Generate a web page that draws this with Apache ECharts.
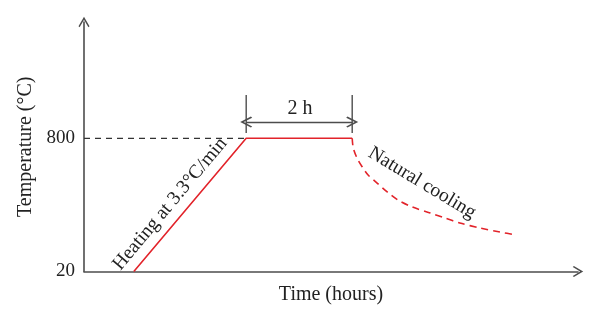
<!DOCTYPE html>
<html>
<head>
<meta charset="utf-8">
<script src="https://cdn.jsdelivr.net/npm/echarts@6/dist/echarts.min.js"></script>
<style>html,body{margin:0;padding:0;background:#fff}#c{width:600px;height:323px}</style>
</head>
<body>
<div id="c"></div>
<script>
// Data (time in hours from an arbitrary origin, temperature in °C)
var yTicks = [20, 800];
var heatTime = [0.94, 3.06, 5.06];
var heatTemp = [20, 800, 800];
var coolTime = [5.06, 5.08, 5.15, 5.25, 5.36, 5.53, 5.72, 5.92, 6.19, 6.53, 6.81, 7.09, 7.47, 7.85, 8.15];
var coolTemp = [800, 743, 685, 632, 585, 538, 486, 439, 398, 363, 333, 304, 275, 251, 234];
var refTime = [0, 3.06];
var refTemp = [800, 800];
var holdStart = 3.06, holdEnd = 5.06;
var dimLow = 831, dimHigh = 1054, dimMid = 895;

var FONT = '"Liberation Serif", "DejaVu Serif", serif';
var AX = '#4d4d4d';
var RED = '#e2232a';
var chevron = 'path://M5,0 L10,8.5 L9,9.5 L5,2.8 L1,9.5 L0,8.5 Z';

function zip(a, b) { return a.map(function (v, i) { return [v, b[i]]; }); }

var chart = echarts.init(document.getElementById('c'));
chart.setOption({
  animation: false,
  grid: { left: 84, right: 22, top: 22, bottom: 51.5, containLabel: false },
  xAxis: {
    type: 'value', min: 0, max: 9.32,
    name: 'Time (hours)', nameLocation: 'middle', nameGap: 13,
    nameTextStyle: { fontFamily: FONT, fontSize: 20, color: '#222' },
    axisLine: { show: true, lineStyle: { color: AX, width: 1.6 }, symbol: ['none', chevron], symbolSize: [11, 12] },
    axisTick: { show: false }, axisLabel: { show: false }, splitLine: { show: false }
  },
  yAxis: {
    type: 'value', min: 20, max: 1481,
    name: 'Temperature (°C)', nameLocation: 'middle', nameGap: 40, nameRotate: 90,
    nameTextStyle: { fontFamily: FONT, fontSize: 20, color: '#222' },
    axisLine: { show: true, lineStyle: { color: AX, width: 1.6 }, symbol: ['none', chevron], symbolSize: [11, 12] },
    axisTick: { show: false }, splitLine: { show: false },
    axisLabel: { show: true, customValues: yTicks, margin: 9, fontFamily: FONT, fontSize: 19, color: '#222' }
  },
  series: [
    { type: 'line', data: zip(refTime, refTemp), symbol: 'none', silent: true,
      lineStyle: { color: '#333', width: 1.2, type: [6, 5] } },
    { type: 'line', data: zip(heatTime, heatTemp), symbol: 'none', silent: true,
      lineStyle: { color: RED, width: 1.6 } },
    { type: 'line', data: zip(coolTime, coolTemp), symbol: 'none', smooth: 0.3, silent: true,
      lineStyle: { color: RED, width: 1.6, type: [7, 5] } },
    { type: 'line', data: [[holdStart, dimLow], [holdStart, dimHigh]], symbol: 'none', silent: true,
      lineStyle: { color: AX, width: 1.4 } },
    { type: 'line', data: [[holdEnd, dimLow], [holdEnd, dimHigh]], symbol: 'none', silent: true,
      lineStyle: { color: AX, width: 1.4 },
      markLine: {
        silent: true, symbol: [chevron, chevron], symbolSize: [11, 12],
        label: { show: false },
        lineStyle: { color: AX, width: 1.4, type: 'solid' },
        data: [[{ coord: [holdStart, dimMid] }, { coord: [holdEnd, dimMid] }]]
      } }
  ],
  graphic: [
    { type: 'text', x: 300, y: 109, style: { text: '2 h', font: '20px ' + FONT, fill: '#222', align: 'center', verticalAlign: 'middle' } },
    { type: 'text', x: 170, y: 204, rotation: 50 * Math.PI / 180,
      style: { text: 'Heating at 3.3°C/min', font: '19.5px ' + FONT, fill: '#222', align: 'center', verticalAlign: 'middle' } },
    { type: 'text', x: 422, y: 183, rotation: -31 * Math.PI / 180,
      style: { text: 'Natural cooling', font: '19.5px ' + FONT, fill: '#222', align: 'center', verticalAlign: 'middle' } }
  ]
});
</script>
</body>
</html>
